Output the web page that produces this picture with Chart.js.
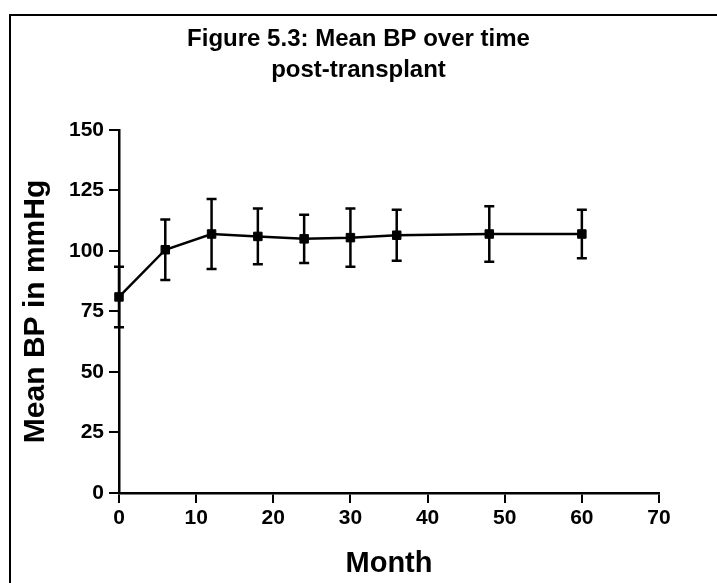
<!DOCTYPE html>
<html>
<head>
<meta charset="utf-8">
<script src="https://cdn.jsdelivr.net/npm/chart.js@4"></script>
<style>
  html, body { margin: 0; padding: 0; background: #fff; }
  canvas { display: block; }
</style>
</head>
<body>
<canvas id="grafico" width="717" height="583"></canvas>
<script>
// ── DATOS ──────────────────────────────────────────────

const meses = [0, 6, 12, 18, 24, 30, 36, 48, 60];
const mediaBP = [81, 100.5, 107, 106, 105, 105.5, 106.5, 107, 107];
const desvBP = [12.5, 12.5, 14.5, 11.5, 10, 12, 10.5, 11.5, 10];

const tituloGrafico = ["Figure 5.3: Mean BP over time", "post-transplant"];
const tituloX = "Month";
const tituloY = "Mean BP in mmHg";

// ── PLUGINS ────────────────────────────────────────────

// marco de la figura (solo borde izquierdo y superior)
const marco = {
  id: "marco",
  beforeDraw(chart) {
    const ctx = chart.ctx;
    ctx.save();
    ctx.fillStyle = "#fff";
    ctx.fillRect(0, 0, chart.width, chart.height);
    ctx.strokeStyle = "#000";
    ctx.lineWidth = 2;
    ctx.beginPath();
    ctx.moveTo(10, chart.height);
    ctx.lineTo(10, 15);
    ctx.lineTo(chart.width, 15);
    ctx.stroke();
    ctx.restore();
  }
};

// barras de error (media ± desviación)
const barrasError = {
  id: "barrasError",
  afterDatasetsDraw(chart) {
    const ctx = chart.ctx;
    const x = chart.scales.x;
    const y = chart.scales.y;
    ctx.save();
    ctx.strokeStyle = "#000";
    ctx.lineWidth = 2.5;
    meses.forEach((m, i) => {
      const px = x.getPixelForValue(m);
      const arriba = y.getPixelForValue(mediaBP[i] + desvBP[i]);
      const abajo = y.getPixelForValue(mediaBP[i] - desvBP[i]);
      ctx.beginPath();
      ctx.moveTo(px, arriba);
      ctx.lineTo(px, abajo);
      ctx.moveTo(px - 5, arriba);
      ctx.lineTo(px + 5, arriba);
      ctx.moveTo(px - 5, abajo);
      ctx.lineTo(px + 5, abajo);
      ctx.stroke();
    });
    ctx.restore();
  }
};

// ── GRAFICO ────────────────────────────────────────────

const fuenteTicks = { family: "Liberation Sans", weight: "bold", size: 21 };
const fuenteTitulo = { family: "Liberation Sans", weight: "bold", size: 29 };

const ctx = document.getElementById("grafico").getContext("2d");
new Chart(ctx, {
  type: "line",
  data: {
    datasets: [{
      data: meses.map((m, i) => ({ x: m, y: mediaBP[i] })),
      borderColor: "#000",
      backgroundColor: "#000",
      borderWidth: 2.5,
      pointStyle: "rect",
      pointRadius: 6,
      pointBorderWidth: 1,
      clip: false,
    }]
  },
  options: {
    responsive: false,
    animation: false,
    devicePixelRatio: 1,
    layout: { padding: 0 },
    plugins: {
      legend: { display: false },
      tooltip: { enabled: false },
      title: {
        display: true,
        text: tituloGrafico,
        color: "#000",
        font: { family: "Liberation Sans", weight: "bold", size: 24, lineHeight: 1.29 },
        padding: { top: 24, bottom: 44 },
      },
    },
    scales: {
      x: {
        type: "linear",
        min: 0, max: 70,
        ticks: { stepSize: 10, color: "#000", font: fuenteTicks, padding: 3, maxRotation: 0 },
        grid: { drawOnChartArea: false, color: "#000", lineWidth: 2, tickLength: 10 },
        border: { display: true, color: "#000", width: 2.5 },
        title: { display: true, text: tituloX, color: "#000", font: fuenteTitulo, padding: { top: 0, bottom: 2 } },
        afterFit: s => { s.height = 90; },
      },
      y: {
        min: 0, max: 150,
        ticks: { stepSize: 25, color: "#000", font: fuenteTicks, padding: 5 },
        grid: { drawOnChartArea: false, color: "#000", lineWidth: 2, tickLength: 10 },
        border: { display: true, color: "#000", width: 2.5 },
        title: { display: true, text: tituloY, color: "#000", font: { family: "Liberation Sans", weight: "bold", size: 30 }, padding: { top: 18, bottom: 0 } },
        afterFit: s => { s.width = 119; },
      },
      yDer: {
        type: "linear",
        position: "right",
        ticks: { display: false },
        grid: { display: false },
        border: { display: false },
        afterFit: s => { s.width = 58; },
      },
    },
  },
  plugins: [marco, barrasError],
});
</script>
</body>
</html>
